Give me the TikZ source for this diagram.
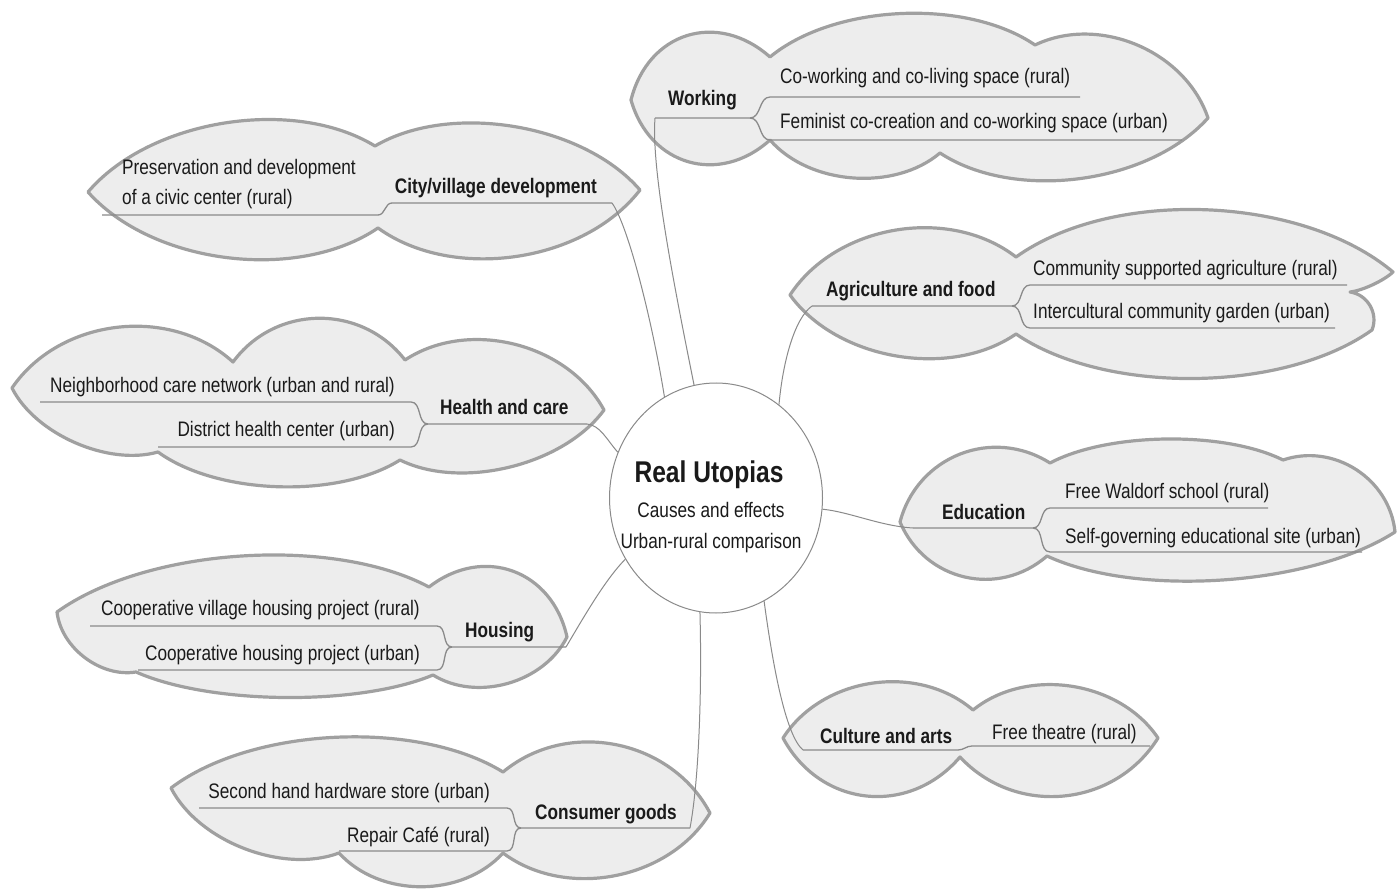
\documentclass[tikz,border=0pt]{standalone}
\usepackage{fontspec}
\setmainfont{Liberation Sans}[FakeStretch=0.82]
\usetikzlibrary{calc,shapes.geometric}
\definecolor{cfill}{HTML}{EDEDED}
\definecolor{cline}{HTML}{A0A0A0}
\definecolor{ulc}{HTML}{8A8A8A}
\definecolor{txtc}{HTML}{1A1A1A}
\begin{document}
\begin{tikzpicture}[x=1pt,y=-1pt,
  lobe/.style={to path={.. controls ($(\tikztostart)!0.25!(\tikztotarget)!#1pt!90:(\tikztotarget)$) and ($(\tikztotarget)!0.25!(\tikztostart)!#1pt!-90:(\tikztostart)$) .. (\tikztotarget)}},
  cloud/.style={fill=cfill, draw=cline, line width=3.2pt, line join=round},
  ul/.style={draw=ulc, line width=1.3pt},
  conn/.style={draw=ulc, line width=1pt},
  tx/.style={inner sep=0pt, text=txtc, font=\fontsize{21}{25}\selectfont},
  tb/.style={inner sep=0pt, text=txtc, font=\fontsize{21}{25}\selectfont\bfseries},
]
\fill[white] (0,0) rectangle (1397,890);
\useasboundingbox (0,0) rectangle (1397,890);

% ---------- clouds ----------
% Working
\path[cloud] (631,100) to[lobe=60] (770,57) to[lobe=50] (1035,45) to[lobe=53] (1208,118)
  to[lobe=58] (940,153) to[lobe=42] (770,140) to[lobe=58] (631,100) -- cycle;
% City/village development
\path[cloud] (88,192) to[lobe=62] (375,146) to[lobe=56] (640,190)
  to[lobe=64] (378,228) to[lobe=64] (88,192) -- cycle;
% Agriculture and food
\path[cloud] (790,295) to[lobe=62] (1016,257) to[lobe=73] (1393,272) to[lobe=4] (1350,292)
  to[lobe=14] (1372,330) to[lobe=62] (1016,334) to[lobe=56] (790,295) -- cycle;
% Health and care
\path[cloud] (12,388) to[lobe=64] (233,362) to[lobe=57] (405,360) to[lobe=56] (604,410)
  to[lobe=44] (400,460) to[lobe=41] (158,452) to[lobe=33] (12,388) -- cycle;
% Education
\path[cloud] (900,522) to[lobe=55] (1050,463) to[lobe=30] (1283,460) to[lobe=42] (1395,532)
  to[lobe=48] (1047,556) to[lobe=52] (900,522) -- cycle;
% Housing
\path[cloud] (57,612) to[lobe=58] (429,587) to[lobe=58] (567,637)
  to[lobe=38] (433,675) to[lobe=32] (136,672) to[lobe=26] (57,612) -- cycle;
% Culture and arts
\path[cloud] (783,738) to[lobe=55] (973,710) to[lobe=51] (1158,738)
  to[lobe=65] (960,757) to[lobe=65] (783,738) -- cycle;
% Consumer goods
\path[cloud] (171,788) to[lobe=57] (503,772) to[lobe=65] (710,813)
  to[lobe=58] (503,853) to[lobe=45] (339,853) to[lobe=40] (171,788) -- cycle;

% ---------- underlines ----------
% Working
\coordinate (wk) at (655,118);
\draw[ul] (wk) -- (750,118) to[out=0,in=180] (770,97) -- (1080,97);
\draw[ul] (750,118) to[out=0,in=180] (770,140) -- (1182,140);
% City
\coordinate (cv) at (612,203);
\draw[ul] (cv) -- (392,203) to[out=180,in=0] (378,215) -- (102,215);
% Agriculture
\coordinate (ag) at (812,306);
\draw[ul] (ag) -- (1012,306) to[out=0,in=180] (1030,285) -- (1347,285);
\draw[ul] (1012,306) to[out=0,in=180] (1030,328) -- (1335,328);
% Health
\coordinate (hc) at (587,424);
\draw[ul] (hc) -- (428,424) to[out=180,in=0] (411,402) -- (40,402);
\draw[ul] (428,424) to[out=180,in=0] (411,447) -- (158,447);
% Education
\coordinate (ed) at (913,528);
\draw[ul] (ed) -- (1033,528) to[out=0,in=180] (1050,508) -- (1268,508);
\draw[ul] (1033,528) to[out=0,in=180] (1050,552) -- (1362,552);
% Housing
\coordinate (ho) at (566,647);
\draw[ul] (ho) -- (452,647) to[out=180,in=0] (437,626) -- (90,626);
\draw[ul] (452,647) to[out=180,in=0] (437,670) -- (138,670);
% Culture
\coordinate (ca) at (803,750);
\draw[ul] (ca) -- (958,750) to[out=0,in=180] (972,746) -- (1150,746);
% Consumer
\coordinate (cg) at (690,828);
\draw[ul] (cg) -- (521,828) to[out=180,in=0] (507,808) -- (199,808);
\draw[ul] (521,828) to[out=180,in=0] (507,851) -- (339,851);

% ---------- centre ----------
\node[ellipse, draw=ulc, line width=1pt, fill=white, minimum width=213pt, minimum height=230pt, inner sep=0pt] (c) at (716,498) {};
\node[tb, font=\fontsize{30}{33}\selectfont\bfseries, anchor=base] (ct1) at (709,482) {Real Utopias};
\node[tx, anchor=base] (ct2) at (711,517) {Causes and effects};
\node[tx, anchor=base] (ct3) at (711,548) {Urban-rural comparison};

% ---------- connectors ----------
\draw[conn] (wk) .. controls (651,170) and (675,290) .. (c.101);
\draw[conn] (cv) .. controls (628,225) and (652,320) .. (c.117);
\draw[conn] (ag) .. controls (795,318) and (783,360) .. (c.56);
\draw[conn] (hc) .. controls (600,425) and (607,440) .. (c.155);
\draw[conn] (c.-6) .. controls (850,512) and (880,526) .. (ed);
\draw[conn] (ho) .. controls (585,615) and (605,580) .. (c.214);
\draw[conn] (c.295) .. controls (772,660) and (785,735) .. (ca);
\draw[conn] (c.262) .. controls (702,690) and (699,780) .. (cg);

% ---------- texts ----------
\node[tb, anchor=base west] (t1) at (668,106) {Working};
\node[tx, anchor=base west] (t1a) at (780,84) {Co-working and co-living space (rural)};
\node[tx, anchor=base west] (t1b) at (780,129) {Feminist co-creation and co-working space (urban)};

\node[tb, anchor=base east] (t2) at (597,194) {City/village development};
\node[tx, anchor=base west] (t2a) at (122,175) {Preservation and development};
\node[tx, anchor=base west] (t2b) at (122,205) {of a civic center (rural)};

\node[tb, anchor=base west] (t3) at (826,297) {Agriculture and food};
\node[tx, anchor=base west] (t3a) at (1033,276) {Community supported agriculture (rural)};
\node[tx, anchor=base west] (t3b) at (1033,319) {Intercultural community garden (urban)};

\node[tb, anchor=base west] (t4) at (440,414) {Health and care};
\node[tx, anchor=base east] (t4a) at (395,392) {Neighborhood care network (urban and rural)};
\node[tx, anchor=base east] (t4b) at (395,436) {District health center (urban)};

\node[tb, anchor=base west] (t5) at (942,519) {Education};
\node[tx, anchor=base west] (t5a) at (1065,498) {Free Waldorf school (rural)};
\node[tx, anchor=base west] (t5b) at (1065,543) {Self-governing educational site (urban)};

\node[tb, anchor=base west] (t6) at (465,637) {Housing};
\node[tx, anchor=base east] (t6a) at (420,615) {Cooperative village housing project (rural)};
\node[tx, anchor=base east] (t6b) at (420,660) {Cooperative housing project (urban)};

\node[tb, anchor=base west] (t7) at (820,743) {Culture and arts};
\node[tx, anchor=base west] (t7a) at (992,739) {Free theatre (rural)};

\node[tb, anchor=base west] (t8) at (535,819) {Consumer goods};
\node[tx, anchor=base east] (t8a) at (490,798) {Second hand hardware store (urban)};
\node[tx, anchor=base east] (t8b) at (490,842) {Repair Café (rural)};
\end{tikzpicture}
\end{document}
